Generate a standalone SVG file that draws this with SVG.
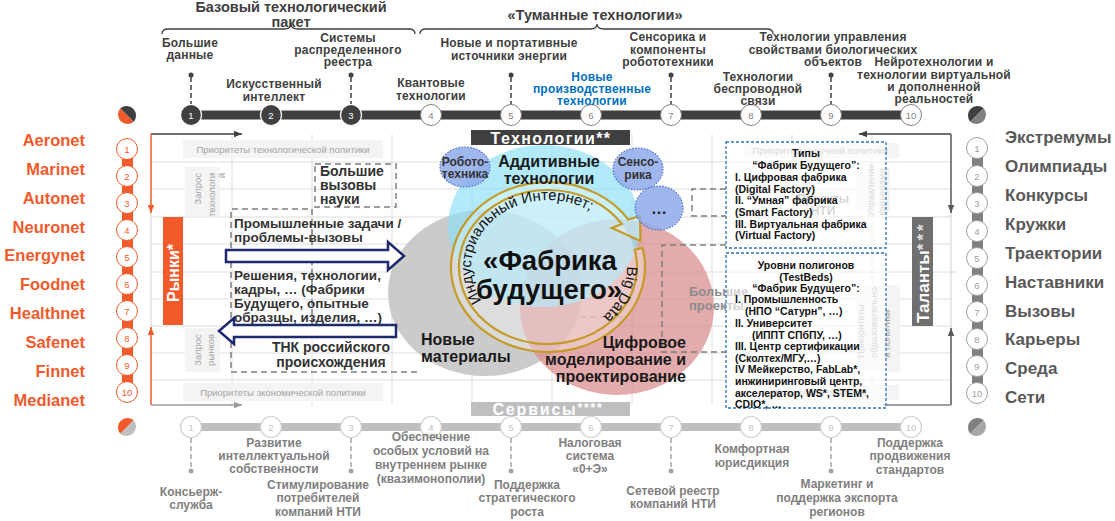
<svg xmlns="http://www.w3.org/2000/svg" width="1115" height="521" viewBox="0 0 1115 521">
<defs>
<style>
text{font-family:"Liberation Sans",Arial,sans-serif}
.ttl{font-size:14.5px;font-weight:bold;fill:#404040;text-anchor:middle}
.tl{font-size:12px;font-weight:bold;fill:#404040;text-anchor:middle;letter-spacing:0.2px}
.tlb{font-size:12px;font-weight:bold;fill:#0070C0;text-anchor:middle;letter-spacing:0.2px}
.bl{font-size:12px;font-weight:bold;fill:#808080;text-anchor:middle}
.lo{font-size:16.5px;font-weight:bold;fill:#F15A2B;text-anchor:end}
.rg{font-size:17px;font-weight:bold;fill:#595959}
.nw{font-size:9.5px;fill:#ffffff;text-anchor:middle}
.ng{font-size:9.5px;fill:#7f7f7f;text-anchor:middle}
.no{font-size:9.5px;fill:#F15A2B;text-anchor:middle}
.nr{font-size:9.5px;fill:#a0a0a0;text-anchor:middle}
.nb{font-size:9.5px;fill:#c4c4c4;text-anchor:middle}
.fa{font-size:9.5px;fill:#a3a3a3;text-anchor:middle}
.fe{font-size:9.5px;fill:#a3a3a3;text-anchor:end}
.fs{font-size:9.5px;fill:#a3a3a3;text-anchor:start}
.fb{fill:#f4f4f4}
.gl{stroke:#dedede;stroke-width:1;fill:none}
.dsh{stroke:#7f7f7f;stroke-width:1.5;stroke-dasharray:6,4;fill:none}
.bx{font-size:14px;font-weight:bold;fill:#333333}
.bxm{font-size:14px;font-weight:bold;fill:#333333;text-anchor:middle}
.bxl{font-size:13.5px;font-weight:bold;fill:#333333}
.ct{font-size:16px;font-weight:bold;fill:#1a1a1a;text-anchor:middle}
.ctl{font-size:16px;font-weight:bold;fill:#1a1a1a}
.ctr{font-size:16px;font-weight:bold;fill:#1a1a1a;text-anchor:end}
.rb{font-size:10.5px;font-weight:bold;fill:#111111}
.rbm{font-size:10.5px;font-weight:bold;fill:#111111;text-anchor:middle}
.sm{font-size:12px;font-weight:bold;fill:#333333;text-anchor:middle}
.pinT{stroke:#404040;stroke-width:1.5;stroke-dasharray:5,3}
.pinB{stroke:#a6a6a6;stroke-width:1.5;stroke-dasharray:5,3}
.bcirc{fill:#8FAAEB;fill-opacity:0.85;stroke:#4F72C8;stroke-width:1.2;stroke-dasharray:1.5,1.5}
.bluebox{fill:#ffffff;fill-opacity:0.6;stroke:#2E75B6;stroke-width:1.3;stroke-dasharray:3,2}
.harrow{fill:#ffffff;stroke:#1F2A6E;stroke-width:2.5}
.cd{fill:#404040;stroke:#ffffff;stroke-width:1.2}
.cw{fill:#ffffff;stroke:#7f7f7f;stroke-width:1}
.co{fill:#ffffff;stroke:#F15A2B;stroke-width:1}
.cr{fill:#ffffff;stroke:#a0a0a0;stroke-width:1}
.cb{fill:#ffffff;stroke:#d0d0d0;stroke-width:1.2}
.ring{font-size:15px;fill:#111111}
</style>
<marker id="mDark" viewBox="0 0 10 10" refX="10" refY="5" markerWidth="8" markerHeight="8" markerUnits="userSpaceOnUse" orient="auto"><path d="M0,1 L10,5 L0,9 z" fill="#404040"/></marker>
<marker id="mOr" viewBox="0 0 10 10" refX="10" refY="5" markerWidth="8" markerHeight="8" markerUnits="userSpaceOnUse" orient="auto"><path d="M0,1 L10,5 L0,9 z" fill="#F15A2B"/></marker>
<marker id="mGr" viewBox="0 0 10 10" refX="10" refY="5" markerWidth="8" markerHeight="8" markerUnits="userSpaceOnUse" orient="auto"><path d="M0,1 L10,5 L0,9 z" fill="#9a9a9a"/></marker>
<marker id="mRt" viewBox="0 0 10 10" refX="10" refY="5" markerWidth="8" markerHeight="8" markerUnits="userSpaceOnUse" orient="auto"><path d="M0,1 L10,5 L0,9 z" fill="#595959"/></marker>
<path id="indPath" d="M482.7,302.5 A77,67 0 0 1 605.2,222.2"/>
<path id="bdPath" d="M626.8,262.2 A79,69 0 0 1 580.1,330.0"/>
</defs>
<rect width="1115" height="521" fill="#ffffff"/>

<g id="grid">
<path class="gl" d="M151,162H951M151,189H951M151,217H951M151,244H951M151,272H957M151,299H951M151,326H951M151,353H951M151,380H951"/>
<path class="gl" d="M232,134V405M312,134V405M392,134V405M472,134V405M552,134V405M632,134V405M712,134V405M792,134V405M872,134V405"/>
<path d="M151,212V328M951,212V329" stroke="#d0d0d0" stroke-width="1"/>
</g>

<g id="faint-labels">
<rect class="fb" x="183" y="140" width="200" height="18"/>
<text class="fa" x="283" y="152.5">Приоритеты технологической политики</text>
<rect class="fb" x="185" y="167" width="35" height="50"/>
<text class="fe" transform="translate(200.5,173) rotate(-90)">Запрос</text>
<text class="fe" transform="translate(214.5,173) rotate(-90)">технологи</text>
<text class="fe" transform="translate(224.5,173) rotate(-90)">й</text>
<rect class="fb" x="185" y="328" width="35" height="44"/>
<text class="fa" transform="translate(200.5,350) rotate(-90)">Запрос</text>
<text class="fa" transform="translate(214,350) rotate(-90)">рынков</text>
<rect class="fb" x="183" y="383" width="200" height="18"/>
<text class="fa" x="283" y="395.5">Приоритеты экономической политики</text>
<rect class="fb" x="743" y="143" width="156" height="15"/>
<text class="fa" x="820" y="153.5">Приоритеты научной политики</text>
<rect class="fb" x="857" y="168" width="33" height="45"/>
<text class="fa" transform="translate(873.5,190) rotate(-90)">Управление</text>
<text class="fa" transform="translate(885,192) rotate(-90)">карьерами</text>
<rect class="fb" x="857" y="285" width="43" height="87"/>
<text class="fs" transform="translate(863.5,358) rotate(-90)">Приоритеты</text>
<text class="fs" transform="translate(876.5,358) rotate(-90)">образовательно</text>
<text class="fs" transform="translate(889.5,358) rotate(-90)">й политики</text>
<rect class="fb" x="743" y="385" width="156" height="15"/>
<text class="fa" x="820" y="395.5">Траектории развития</text>
</g>

<g id="connectors">
<line x1="151" y1="134" x2="242" y2="134" stroke="#404040" stroke-width="1.5" marker-end="url(#mDark)"/>
<line x1="151" y1="134" x2="151" y2="213" stroke="#F15A2B" stroke-width="1.5" marker-end="url(#mOr)"/>
<line x1="151" y1="405" x2="151" y2="327" stroke="#F15A2B" stroke-width="1.5" marker-end="url(#mOr)"/>
<line x1="151" y1="405" x2="242" y2="405" stroke="#9a9a9a" stroke-width="1.5" marker-end="url(#mGr)"/>
<line x1="951" y1="134" x2="859" y2="134" stroke="#404040" stroke-width="1.5" marker-end="url(#mDark)"/>
<line x1="951" y1="134" x2="951" y2="213" stroke="#595959" stroke-width="1.5" marker-end="url(#mRt)"/>
<line x1="951" y1="405" x2="951" y2="328" stroke="#595959" stroke-width="1.5" marker-end="url(#mRt)"/>
<line x1="951" y1="405" x2="883" y2="405" stroke="#808080" stroke-width="1.5"/>
</g>

<line x1="540" y1="317" x2="622" y2="317" class="dsh" style="stroke:#a0a0a0"/>

<g id="venn">
<ellipse cx="485" cy="293" rx="97" ry="83" fill="#C4C4C4" fill-opacity="0.88"/>
<ellipse cx="617" cy="307" rx="97" ry="88" fill="#D88A8A" fill-opacity="0.72"/>
<ellipse cx="544" cy="226" rx="96" ry="81" fill="#8EE0F7" fill-opacity="0.68"/>
<ellipse cx="548" cy="267" rx="89" ry="77" fill="#ffffff" fill-opacity="0.35"/>
</g>

<g id="big-challenges">
<rect class="dsh" x="315" y="164" width="81" height="43"/>
<text class="bx" x="320" y="176">Большие</text>
<text class="bx" x="320" y="190">вызовы</text>
<text class="bx" x="320" y="204">науки</text>
</g>
<g id="industry-box">
<path class="dsh" d="M312,325 V209 H231 V372 H420"/>
<text class="bxl" x="234" y="228">Промышленные задачи /</text>
<text class="bxl" x="234" y="242">проблемы-вызовы</text>
<text class="bxl" x="234" y="280">Решения, технологии,</text>
<text class="bxl" x="234" y="294">кадры, … (Фабрики</text>
<text class="bxl" x="234" y="308">Будущего, опытные</text>
<text class="bxl" x="234" y="322">образцы, изделия, …)</text>
<text class="bxm" x="331" y="352">ТНК российского</text>
<text class="bxm" x="331" y="367">происхождения</text>
</g>
<g id="flow-arrows">
<path class="harrow" d="M226,250 H388 V242 L404,256 L388,270 V262 H226 Z"/>
<path class="harrow" d="M396,325 H234 V318 L219,331 L234,344 V337 H396 Z"/>
</g>

<g id="big-projects">
<path class="dsh" d="M726,245 H662 V352 H726"/>
<text x="689" y="296" style="font-size:13px;font-weight:bold;fill:#8c8c8c">Большие</text>
<text x="689" y="310" style="font-size:13px;font-weight:bold;fill:#8c8c8c">проекты</text>
</g>
<g id="nti-projects">
<path class="dsh" d="M726,189 H692 V216 H726"/>
<text x="823" y="203" style="font-size:12px;font-weight:bold;fill:#9a9a9a;text-anchor:middle">Проекты</text>
<text x="823" y="215" style="font-size:12px;font-weight:bold;fill:#9a9a9a;text-anchor:middle">НТИ</text>
</g>

<g id="ring">
<path d="M642.5,247.9 A97,85 0 1 1 628.4,219.5 L640,216 L640.5,241 L612,228 L621.8,224 A89,77 0 1 0 634.7,249.7 Z" fill="#ffffff" fill-opacity="0.3" stroke="#C59B27" stroke-width="2.2" stroke-linejoin="miter"/>
<text class="ring"><textPath href="#indPath" startOffset="2">Индустриальный Интернет;</textPath></text>
<text class="ring"><textPath href="#bdPath" startOffset="4">Big Data</textPath></text>
</g>

<g id="robotics">
<ellipse class="bcirc" cx="465" cy="167" rx="25" ry="20"/>
<text class="sm" x="465" y="166">Робото-</text>
<text class="sm" x="465" y="178">техника</text>
</g>
<g id="sensors">
<ellipse class="bcirc" cx="638" cy="169" rx="25" ry="21"/>
<text class="sm" x="638" y="166">Сенсо-</text>
<text class="sm" x="638" y="179">рика</text>
</g>
<g id="more">
<ellipse class="bcirc" cx="659" cy="208" rx="24" ry="22"/>
<text x="659" y="214" style="font-size:16px;font-weight:bold;fill:#222;text-anchor:middle">…</text>
</g>

<g id="center-texts">
<text class="ct" x="549" y="167">Аддитивные</text>
<text class="ct" x="549" y="184">технологии</text>
<text x="550" y="270" style="font-size:27.5px;font-weight:bold;fill:#111;text-anchor:middle">«Фабрика</text>
<text x="549" y="299" style="font-size:27.5px;font-weight:bold;fill:#111;text-anchor:middle">будущего»</text>
<text class="ctl" x="421" y="345">Новые</text>
<text class="ctl" x="421" y="362">материалы</text>
<text class="ctr" x="686" y="348">Цифровое</text>
<text class="ctr" x="686" y="365">моделирование и</text>
<text class="ctr" x="686" y="382">проектирование</text>
</g>

<g id="technologies-bar">
<rect x="471" y="130" width="159" height="15" fill="#404040"/>
<text x="551" y="143.5" style="font-size:16px;font-weight:bold;fill:#fff;text-anchor:middle;letter-spacing:1.4px">Технологии**</text>
</g>
<g id="services-bar">
<rect x="471" y="402" width="159" height="14" fill="#BFBFBF"/>
<text x="548" y="414.5" style="font-size:16px;font-weight:bold;fill:#fff;text-anchor:middle;letter-spacing:1.8px">Сервисы<tspan style="font-size:12px" dy="-3">****</tspan></text>
</g>
<g id="markets-bar">
<rect x="163" y="217" width="20" height="108" fill="#F15A2B"/>
<text transform="translate(179,273) rotate(-90)" style="font-size:16px;font-weight:bold;fill:#fff;text-anchor:middle">Рынки*</text>
</g>
<g id="talents-bar">
<rect x="912" y="217" width="21" height="109" fill="#6F6F6F"/>
<text transform="translate(928.5,323) rotate(-90)" style="font-size:17px;font-weight:bold;fill:#fff">Таланты<tspan style="letter-spacing:3px;fill:#e0e0e0">***</tspan></text>
</g>

<g id="factory-types">
<rect class="bluebox" x="726" y="142" width="160" height="106"/>
<text class="rbm" x="806" y="157">Типы</text>
<text class="rbm" x="806" y="169">“Фабрик Будущего”:</text>
<text class="rb" x="735" y="181">I. Цифровая фабрика</text>
<text class="rb" x="735" y="193">(Digital Factory)</text>
<text class="rb" x="735" y="204">II. “Умная” фабрика</text>
<text class="rb" x="735" y="216">(Smart Factory)</text>
<text class="rb" x="735" y="228">III. Виртуальная фабрика</text>
<text class="rb" x="735" y="239">(Virtual Factory)</text>
</g>
<g id="testbeds">
<rect class="bluebox" x="726" y="253" width="160" height="155"/>
<text class="rbm" x="806" y="269">Уровни полигонов</text>
<text class="rbm" x="806" y="281">(TestBeds)</text>
<text class="rbm" x="806" y="292">“Фабрик Будущего”:</text>
<text class="rb" x="735" y="303">I. Промышленность</text>
<text class="rb" x="745" y="315">(НПО “Сатурн”, …)</text>
<text class="rb" x="735" y="327">II. Университет</text>
<text class="rb" x="752" y="339">(ИППТ СПбПУ, …)</text>
<text class="rb" x="735" y="350">III. Центр сертификации</text>
<text class="rb" x="735" y="362">(Сколтех/МГУ,…)</text>
<text class="rb" x="735" y="373">IV Мейкерство, FabLab*,</text>
<text class="rb" x="735" y="385">инжиниринговый центр,</text>
<text class="rb" x="735" y="397">акселератор, WS*, STEM*,</text>
<text class="rb" x="735" y="408">CDIO*, …</text>
</g>

<g id="header-base">
<text class="ttl" x="291" y="12">Базовый технологический</text>
<text class="ttl" x="291" y="27">пакет</text>
<path d="M162,34 Q162,29 168,29 L284,29 Q291,29 291,24 Q291,29 298,29 L409,29 Q415,29 415,34" fill="none" stroke="#404040" stroke-width="1.3"/>
</g>
<g id="header-fog">
<text class="ttl" x="595" y="20">«Туманные технологии»</text>
<path d="M420,34 Q420,29 426,29 L590,29 Q597,29 597,24 Q597,29 604,29 L767,29 Q773,29 773,34" fill="none" stroke="#404040" stroke-width="1.3"/>
</g>

<g id="tech-timeline">
<rect x="191" y="110.5" width="720" height="9" fill="#404040"/>
<path d="M120.3,108.3 A9.5,9.5 0 0 0 133.7,121.7 Z" fill="#F15A2B"/>
<path d="M120.3,108.3 A9.5,9.5 0 0 1 133.7,121.7 Z" fill="#404040"/>
<path d="M970.3,121.7 A9.5,9.5 0 0 1 983.7,108.3 Z" fill="#404040"/>
<path d="M970.3,121.7 A9.5,9.5 0 0 0 983.7,108.3 Z" fill="#808080"/>
</g>
<g id="tech-1">
<line class="pinT" x1="191" y1="77" x2="191" y2="104"/><circle cx="191" cy="75" r="2.5" fill="#404040"/>
<circle class="cd" cx="191" cy="115" r="10.5"/><text class="nw" x="191" y="118.5">1</text>
<text class="tl" x="190" y="47">Большие</text><text class="tl" x="190" y="59">данные</text>
</g>
<g id="tech-2">
<circle class="cd" cx="271" cy="115" r="10.5"/><text class="nw" x="271" y="118.5">2</text>
<text class="tl" x="274" y="88">Искусственный</text><text class="tl" x="274" y="101">интеллект</text>
</g>
<g id="tech-3">
<line class="pinT" x1="351" y1="77" x2="351" y2="104"/><circle cx="351" cy="75" r="2.5" fill="#404040"/>
<circle class="cd" cx="351" cy="115" r="10.5"/><text class="nw" x="351" y="118.5">3</text>
<text class="tl" x="348" y="42">Системы</text><text class="tl" x="348" y="54">распределенного</text><text class="tl" x="348" y="66">реестра</text>
</g>
<g id="tech-4">
<circle class="cw" cx="431" cy="115" r="10.5"/><text class="ng" x="431" y="118.5">4</text>
<text class="tl" x="431" y="87">Квантовые</text><text class="tl" x="431" y="100">технологии</text>
</g>
<g id="tech-5">
<line class="pinT" x1="511" y1="77" x2="511" y2="104"/><circle cx="511" cy="75" r="2.5" fill="#404040"/>
<circle class="cw" cx="511" cy="115" r="10.5"/><text class="ng" x="511" y="118.5">5</text>
<text class="tl" x="509" y="47">Новые и портативные</text><text class="tl" x="509" y="60">источники энергии</text>
</g>
<g id="tech-6">
<circle class="cw" cx="591" cy="115" r="10.5"/><text class="ng" x="591" y="118.5">6</text>
<text class="tlb" x="592" y="81">Новые</text><text class="tlb" x="592" y="93">производственные</text><text class="tlb" x="592" y="105">технологии</text>
</g>
<g id="tech-7">
<line class="pinT" x1="671" y1="77" x2="671" y2="104"/><circle cx="671" cy="75" r="2.5" fill="#404040"/>
<circle class="cw" cx="671" cy="115" r="10.5"/><text class="ng" x="671" y="118.5">7</text>
<text class="tl" x="668" y="41">Сенсорика и</text><text class="tl" x="668" y="54">компоненты</text><text class="tl" x="668" y="66">робототехники</text>
</g>
<g id="tech-8">
<circle class="cw" cx="751" cy="115" r="10.5"/><text class="ng" x="751" y="118.5">8</text>
<text class="tl" x="758" y="81">Технологии</text><text class="tl" x="758" y="93">беспроводной</text><text class="tl" x="758" y="105">связи</text>
</g>
<g id="tech-9">
<line class="pinT" x1="831" y1="77" x2="831" y2="104"/><circle cx="831" cy="75" r="2.5" fill="#404040"/>
<circle class="cw" cx="831" cy="115" r="10.5"/><text class="ng" x="831" y="118.5">9</text>
<text class="tl" x="833" y="41">Технологии управления</text><text class="tl" x="833" y="54">свойствами биологических</text><text class="tl" x="833" y="66">объектов</text>
</g>
<g id="tech-10">
<circle class="cw" cx="911" cy="115" r="10.5"/><text class="ng" x="911" y="118.5">10</text>
<text class="tl" x="934" y="66">Нейротехнологии и</text><text class="tl" x="934" y="79">технологии виртуальной</text><text class="tl" x="934" y="91">и дополненной</text><text class="tl" x="934" y="103">реальностей</text>
</g>

<g id="markets">
<rect x="122" y="149" width="11" height="243" fill="#F15A2B"/>
<circle class="co" cx="127" cy="149" r="10.5"/><text class="no" x="127" y="152.5">1</text>
<circle class="co" cx="127" cy="176" r="10.5"/><text class="no" x="127" y="179.5">2</text>
<circle class="co" cx="127" cy="203" r="10.5"/><text class="no" x="127" y="206.5">3</text>
<circle class="co" cx="127" cy="230" r="10.5"/><text class="no" x="127" y="233.5">4</text>
<circle class="co" cx="127" cy="257" r="10.5"/><text class="no" x="127" y="260.5">5</text>
<circle class="co" cx="127" cy="284" r="10.5"/><text class="no" x="127" y="287.5">6</text>
<circle class="co" cx="127" cy="311" r="10.5"/><text class="no" x="127" y="314.5">7</text>
<circle class="co" cx="127" cy="338" r="10.5"/><text class="no" x="127" y="341.5">8</text>
<circle class="co" cx="127" cy="365" r="10.5"/><text class="no" x="127" y="368.5">9</text>
<circle class="co" cx="127" cy="392" r="10.5"/><text class="no" x="127" y="395.5">10</text>
<text class="lo" x="85" y="146">Aeronet</text>
<text class="lo" x="85" y="175">Marinet</text>
<text class="lo" x="85" y="204">Autonet</text>
<text class="lo" x="85" y="233">Neuronet</text>
<text class="lo" x="85" y="261">Energynet</text>
<text class="lo" x="85" y="290">Foodnet</text>
<text class="lo" x="85" y="319">Healthnet</text>
<text class="lo" x="85" y="348">Safenet</text>
<text class="lo" x="85" y="377">Finnet</text>
<text class="lo" x="85" y="406">Medianet</text>
</g>

<g id="talents">
<rect x="972" y="148" width="11" height="245" fill="#808080"/>
<circle class="cr" cx="977" cy="148" r="10.5"/><text class="nr" x="977" y="151.5">1</text>
<circle class="cr" cx="977" cy="176" r="10.5"/><text class="nr" x="977" y="179.5">2</text>
<circle class="cr" cx="977" cy="203" r="10.5"/><text class="nr" x="977" y="206.5">3</text>
<circle class="cr" cx="977" cy="231" r="10.5"/><text class="nr" x="977" y="234.5">4</text>
<circle class="cr" cx="977" cy="258" r="10.5"/><text class="nr" x="977" y="261.5">5</text>
<circle class="cr" cx="977" cy="285" r="10.5"/><text class="nr" x="977" y="288.5">6</text>
<circle class="cr" cx="977" cy="312" r="10.5"/><text class="nr" x="977" y="315.5">7</text>
<circle class="cr" cx="977" cy="339" r="10.5"/><text class="nr" x="977" y="342.5">8</text>
<circle class="cr" cx="977" cy="366" r="10.5"/><text class="nr" x="977" y="369.5">9</text>
<circle class="cr" cx="977" cy="393" r="10.5"/><text class="nr" x="977" y="396.5">10</text>
<text class="rg" x="1005" y="143">Экстремумы</text>
<text class="rg" x="1005" y="172">Олимпиады</text>
<text class="rg" x="1005" y="201">Конкурсы</text>
<text class="rg" x="1005" y="230">Кружки</text>
<text class="rg" x="1005" y="259">Траектории</text>
<text class="rg" x="1005" y="288">Наставники</text>
<text class="rg" x="1005" y="317">Вызовы</text>
<text class="rg" x="1005" y="345">Карьеры</text>
<text class="rg" x="1005" y="374">Среда</text>
<text class="rg" x="1005" y="403">Сети</text>
</g>

<g id="services-timeline">
<rect x="191" y="423" width="720" height="8" fill="#BFBFBF"/>
<path d="M120.3,433.7 A9.5,9.5 0 0 1 133.7,420.3 Z" fill="#F15A2B"/>
<path d="M120.3,433.7 A9.5,9.5 0 0 0 133.7,420.3 Z" fill="#BFBFBF"/>
<path d="M970.3,433.7 A9.5,9.5 0 0 1 983.7,420.3 Z" fill="#808080"/>
<path d="M970.3,433.7 A9.5,9.5 0 0 0 983.7,420.3 Z" fill="#A6A6A6"/>
</g>
<g id="svc-1">
<circle class="cb" cx="191" cy="427" r="10.5"/><text class="nb" x="191" y="430.5">1</text>
<line class="pinB" x1="191" y1="438" x2="191" y2="469"/><circle cx="191" cy="471" r="2.5" fill="#a6a6a6"/>
<text class="bl" x="191" y="496">Консьерж-</text><text class="bl" x="191" y="509">служба</text>
</g>
<g id="svc-2">
<circle class="cb" cx="271" cy="427" r="10.5"/><text class="nb" x="271" y="430.5">2</text>
<text class="bl" x="274" y="447">Развитие</text><text class="bl" x="274" y="460">интеллектуальной</text><text class="bl" x="274" y="473">собственности</text>
</g>
<g id="svc-3">
<circle class="cb" cx="351" cy="427" r="10.5"/><text class="nb" x="351" y="430.5">3</text>
<line class="pinB" x1="351" y1="438" x2="351" y2="469"/><circle cx="351" cy="471" r="2.5" fill="#a6a6a6"/>
<text class="bl" x="318" y="489">Стимулирование</text><text class="bl" x="318" y="502">потребителей</text><text class="bl" x="318" y="516">компаний НТИ</text>
</g>
<g id="svc-4">
<circle class="cb" cx="431" cy="427" r="10.5"/><text class="nb" x="431" y="430.5">4</text>
<text class="bl" x="431" y="441">Обеспечение</text><text class="bl" x="431" y="455">особых условий на</text><text class="bl" x="431" y="469">внутреннем рынке</text><text class="bl" x="431" y="483">(квазимонополии)</text>
</g>
<g id="svc-5">
<circle class="cb" cx="511" cy="427" r="10.5"/><text class="nb" x="511" y="430.5">5</text>
<line class="pinB" x1="511" y1="438" x2="511" y2="469"/><circle cx="511" cy="471" r="2.5" fill="#a6a6a6"/>
<text class="bl" x="527" y="489">Поддержка</text><text class="bl" x="527" y="502">стратегического</text><text class="bl" x="527" y="516">роста</text>
</g>
<g id="svc-6">
<circle class="cb" cx="591" cy="427" r="10.5"/><text class="nb" x="591" y="430.5">6</text>
<text class="bl" x="590" y="447">Налоговая</text><text class="bl" x="590" y="460">система</text><text class="bl" x="590" y="473">«0+Э»</text>
</g>
<g id="svc-7">
<circle class="cb" cx="671" cy="427" r="10.5"/><text class="nb" x="671" y="430.5">7</text>
<line class="pinB" x1="671" y1="438" x2="671" y2="469"/><circle cx="671" cy="471" r="2.5" fill="#a6a6a6"/>
<text class="bl" x="673" y="495">Сетевой реестр</text><text class="bl" x="673" y="508">компаний НТИ</text>
</g>
<g id="svc-8">
<circle class="cb" cx="751" cy="427" r="10.5"/><text class="nb" x="751" y="430.5">8</text>
<text class="bl" x="752" y="453">Комфортная</text><text class="bl" x="752" y="467">юрисдикция</text>
</g>
<g id="svc-9">
<circle class="cb" cx="831" cy="427" r="10.5"/><text class="nb" x="831" y="430.5">9</text>
<line class="pinB" x1="831" y1="438" x2="831" y2="469"/><circle cx="831" cy="471" r="2.5" fill="#a6a6a6"/>
<text class="bl" x="837" y="488">Маркетинг и</text><text class="bl" x="837" y="502">поддержка экспорта</text><text class="bl" x="837" y="516">регионов</text>
</g>
<g id="svc-10">
<circle class="cb" cx="911" cy="427" r="10.5"/><text class="nb" x="911" y="430.5">10</text>
<text class="bl" x="910" y="447">Поддержка</text><text class="bl" x="910" y="460">продвижения</text><text class="bl" x="910" y="474">стандартов</text>
</g>
</svg>
